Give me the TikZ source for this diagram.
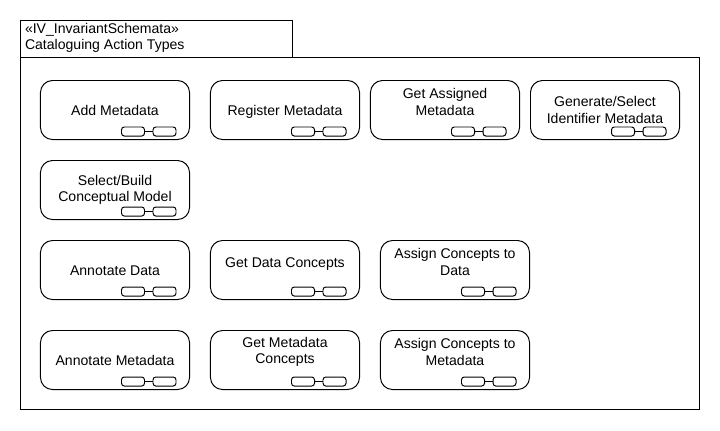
\documentclass[tikz,border=0pt]{standalone}
\usepackage{fontspec}
\setmainfont{Liberation Sans}
\newcommand{\lineprop}{\rule[-2.2pt]{0pt}{12pt}}
\newcommand{\rake}[3]{% name, right end and bottom end of the rake
\draw node[rakebox] (#1L) at (#2-43,#3+4.5) {};
\draw node[rakebox] (#1R) at (#2-11.5,#3+4.5) {};
\draw (#1L) -- (#1R);
}
\begin{document}
\begin{tikzpicture}[x=0.025cm,y=-0.025cm,line width=0.7pt,outer sep=0pt]
\tikzstyle{action}=[draw, rounded corners=0.3cm, minimum width=3.725cm, minimum height=1.475cm, inner sep=0pt, align=center, font=\fontsize{10pt}{11.6pt}\selectfont]
\tikzstyle{actiontext}=[inner sep=0pt, align=center, font=\fontsize{10pt}{11.6pt}\selectfont]
\tikzstyle{rakebox}=[draw, rounded corners=0.07cm, minimum width=0.575cm, minimum height=0.225cm, inner sep=0pt]
\useasboundingbox (0,0) rectangle (720,430);
% package frame
\draw node[draw, anchor=north west, minimum width=16.975cm, minimum height=8.8cm, inner sep=0pt] (frame) at (20.5,57.5) {};
\draw node[draw, anchor=south west, minimum width=6.8cm, minimum height=0.925cm, inner sep=0pt] (tab) at (20.5,57.5) {};
\draw node[anchor=north west, inner sep=0pt, align=left, font=\fontsize{10pt}{11.8pt}\selectfont] (title) at (25,23) {«IV\_InvariantSchemata»\\Cataloguing Action Types};
% first row
\draw node[action] (addmeta) at (115,110) {\lineprop Add Metadata};
\draw node[action] (regmeta) at (285,110) {\lineprop Register Metadata};
\draw node[action] (getassigned) at (445,110) {};
\draw node[actiontext] (getassignedtext) at (445,102) {Get Assigned\\Metadata};
\draw node[action] (genselect) at (605,110) {Generate/Select\\Identifier Metadata};
\rake{addmetaR}{176}{127}
\rake{regmetaR}{346}{127}
\rake{getassignedR}{506}{127}
\rake{genselectR}{666}{127}
% second row
\draw node[action] (selbuild) at (115,190) {Select/Build\\Conceptual Model};
\rake{selbuildR}{176}{207}
% third row
\draw node[action] (anndata) at (115,270) {\lineprop Annotate Data};
\draw node[action] (getdata) at (285,270) {};
\draw node[actiontext] (getdatatext) at (285,262) {\lineprop Get Data Concepts};
\draw node[action] (assigndata) at (455,270) {};
\draw node[actiontext] (assigndatatext) at (455,262) {Assign Concepts to\\Data};
\rake{anndataR}{176}{287}
\rake{getdataR}{346}{287}
\rake{assigndataR}{516}{287}
% fourth row
\draw node[action] (annmeta) at (115,360) {\lineprop Annotate Metadata};
\draw node[action] (getmeta) at (285,360) {};
\draw node[actiontext] (getmetatext) at (285,352) {Get Metadata\\Concepts};
\draw node[action] (assignmeta) at (455,360) {};
\draw node[actiontext] (assignmetatext) at (455,352) {Assign Concepts to\\Metadata};
\rake{annmetaR}{176}{377}
\rake{getmetaR}{346}{377}
\rake{assignmetaR}{516}{377}
\end{tikzpicture}
\end{document}
